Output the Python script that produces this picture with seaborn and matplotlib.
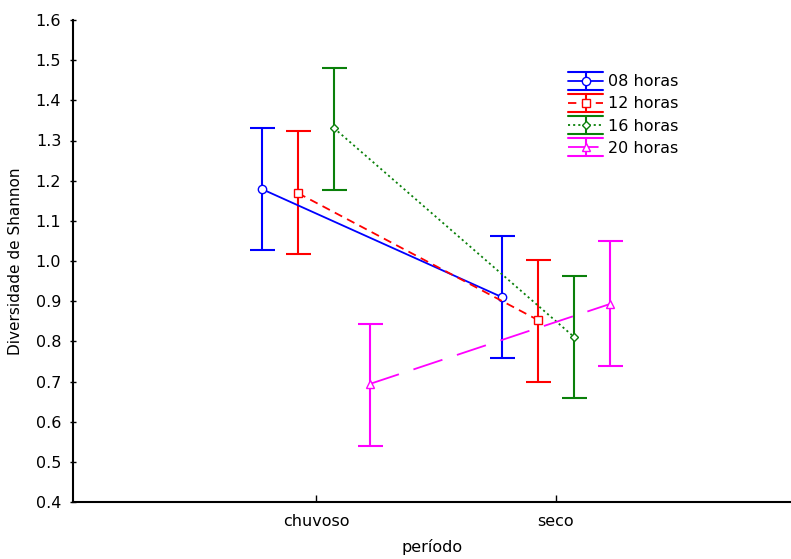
import matplotlib
matplotlib.use("Agg")
import matplotlib.pyplot as plt
from matplotlib.legend_handler import HandlerBase
from matplotlib.lines import Line2D
import seaborn as sns
import numpy as np

# ---- data ----
periods = ["chuvoso", "seco"]
series = ["08 horas", "12 horas", "16 horas", "20 horas"]
means = {
    "08 horas": [1.179, 0.910],
    "12 horas": [1.169, 0.853],
    "16 horas": [1.331, 0.811],
    "20 horas": [0.694, 0.893],
}
lower = {
    "08 horas": [1.027, 0.759],
    "12 horas": [1.017, 0.699],
    "16 horas": [1.177, 0.659],
    "20 horas": [0.539, 0.739],
}
upper = {
    "08 horas": [1.331, 1.062],
    "12 horas": [1.324, 1.003],
    "16 horas": [1.481, 0.963],
    "20 horas": [0.843, 1.050],
}
y_ticks = [0.4, 0.5, 0.6, 0.7, 0.8, 0.9, 1.0, 1.1, 1.2, 1.3, 1.4, 1.5, 1.6]

# ---- styles ----
colors = {"08 horas": "#0000ff", "12 horas": "#ff0000", "16 horas": "#0a800a", "20 horas": "#ff00ff"}
markers = {"08 horas": "o", "12 horas": "s", "16 horas": "D", "20 horas": "^"}
msizes = {"08 horas": 6, "12 horas": 6, "16 horas": 4.5, "20 horas": 6}
lstyles = {"08 horas": "-", "12 horas": (0, (6, 4)), "16 horas": (0, (1.5, 2.2)), "20 horas": (0, (22, 11))}
offsets = {"08 horas": -0.225, "12 horas": -0.075, "16 horas": 0.075, "20 horas": 0.225}

FS = 11.5

sns.set_style("white")
plt.rcParams["font.family"] = ["DejaVu Sans"]
plt.rcParams["lines.scale_dashes"] = False
plt.rcParams["text.color"] = "black"
plt.rcParams["axes.labelcolor"] = "black"
plt.rcParams["xtick.color"] = "black"
plt.rcParams["ytick.color"] = "black"


class ErrHandler(HandlerBase):
    def __init__(self, color, ls, marker, ms):
        super().__init__()
        self.color, self.ls, self.marker, self.ms = color, ls, marker, ms

    def create_artists(self, legend, orig_handle, xdescent, ydescent, width, height, fontsize, trans):
        x0, x1 = -xdescent, -xdescent + width
        cy = height / 2 - ydescent
        h = 6.5
        xm = (x0 + x1) / 2
        arts = [
            Line2D([x0, x1], [cy + h, cy + h], color=self.color, lw=1.5),
            Line2D([x0, x1], [cy - h, cy - h], color=self.color, lw=1.5),
            Line2D([xm, xm], [cy - h, cy + h], color=self.color, lw=1.5),
            Line2D([x0, x1], [cy, cy], color=self.color, lw=1.3, linestyle=self.ls),
            Line2D([xm], [cy], color=self.color, marker=self.marker, markersize=self.ms,
                   markerfacecolor="white", markeredgecolor=self.color, markeredgewidth=1.0,
                   linestyle="none"),
        ]
        for a in arts:
            a.set_transform(trans)
        return arts


fig = plt.figure(figsize=(7.91, 5.59), dpi=100)
ax = fig.add_axes([73 / 791, 1 - 502 / 559, 1 - 73 / 791, 482 / 559])

base = np.arange(len(periods))
handles = []
hmap = {}
for s in series:
    x = base + offsets[s]
    y = np.array(means[s])
    lo = y - np.array(lower[s])
    hi = np.array(upper[s]) - y
    c = colors[s]
    ax.errorbar(x, y, yerr=[lo, hi], fmt="none", ecolor=c, elinewidth=1.5,
                capsize=9, capthick=1.5, zorder=2)
    sns.lineplot(x=x, y=y, ax=ax, color=c, linestyle=lstyles[s], linewidth=1.3,
                 marker=markers[s], markersize=msizes[s], markerfacecolor="white",
                 markeredgecolor=c, markeredgewidth=1.0, zorder=3)
    line = ax.get_lines()[-1]
    handles.append(line)
    hmap[line] = ErrHandler(c, lstyles[s], markers[s], msizes[s])

ax.set_xlim(-1.012, 1.979)
ax.set_ylim(0.4, 1.6)
ax.set_xticks(base)
ax.set_xticklabels(periods)
ax.set_yticks(y_ticks)
ax.set_yticklabels([f"{v:.1f}" for v in y_ticks])
ax.tick_params(axis="y", direction="inout", length=5, width=1, labelsize=FS, pad=6, left=True)
ax.tick_params(axis="x", direction="in", length=5, width=1, labelsize=FS, pad=9, bottom=True)

for sp in ["top", "right"]:
    ax.spines[sp].set_visible(False)
for sp in ["left", "bottom"]:
    ax.spines[sp].set_color("black")
    ax.spines[sp].set_linewidth(1.5)

ax.set_xlabel("período", fontsize=FS, labelpad=7)
ax.set_ylabel("Diversidade de Shannon", fontsize=11, labelpad=9)

leg = ax.legend(handles, series, handler_map=hmap, loc="upper left",
                bbox_to_anchor=(557 / 791, 1 - 63 / 559),
                bbox_transform=fig.transFigure, frameon=False, fontsize=FS,
                labelspacing=0.45, handlelength=2.2, handletextpad=0.3, borderpad=0.2)

fig.savefig("out.png", dpi=100)
